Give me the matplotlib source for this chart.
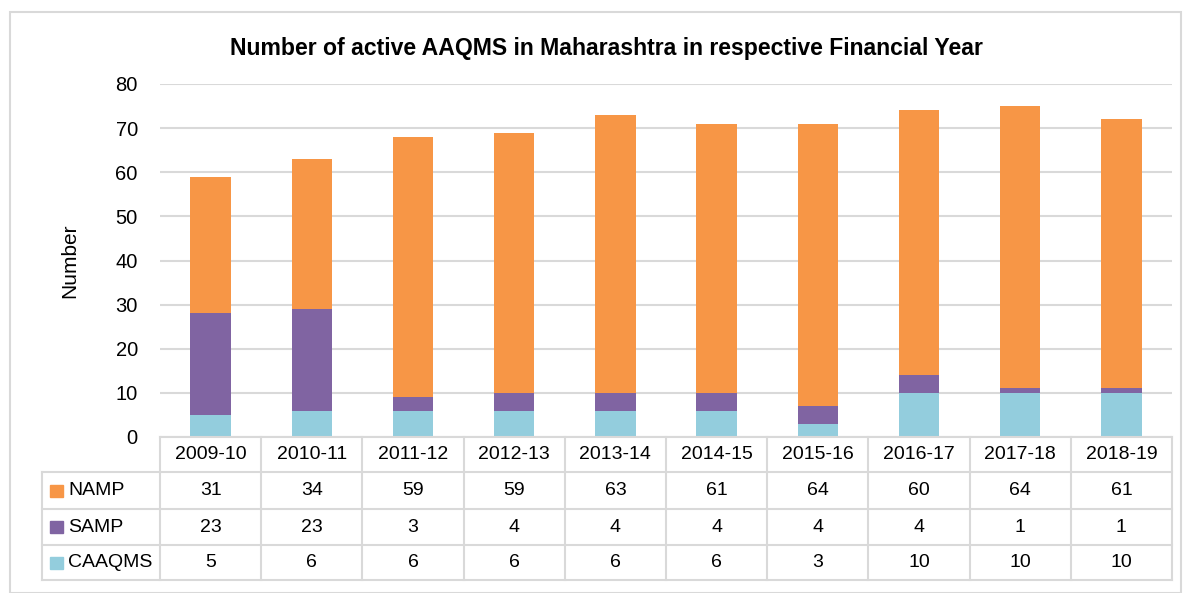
import matplotlib
matplotlib.use("Agg")
import matplotlib.pyplot as plt
import matplotlib.transforms as mtransforms
from matplotlib.patches import Rectangle
import numpy as np

years = ["2009-10", "2010-11", "2011-12", "2012-13", "2013-14",
         "2014-15", "2015-16", "2016-17", "2017-18", "2018-19"]
namp = [31, 34, 59, 59, 63, 61, 64, 60, 64, 61]
samp = [23, 23, 3, 4, 4, 4, 4, 4, 1, 1]
caaqms = [5, 6, 6, 6, 6, 6, 3, 10, 10, 10]
series_names = ["NAMP", "SAMP", "CAAQMS"]
colors = {"NAMP": "#F79646", "SAMP": "#8064A2", "CAAQMS": "#93CDDD"}

plt.rcParams["font.family"] = ["Liberation Sans", "DejaVu Sans"]
fs = 14
tfs = 16.6

W, H = 1187, 593
fig = plt.figure(figsize=(W / 100, H / 100), dpi=100)

def fx(px):
    return px / W

def fy(py):
    return 1 - py / H

# outer border
fig.patches.append(Rectangle((fx(10), fy(593)), fx(1181) - fx(10), fy(12) - fy(593),
                             transform=fig.transFigure, fill=False,
                             edgecolor="#d9d9d9", lw=1.5))

ax_left, ax_right = 160, 1172
ax_top, ax_bot = 84, 437
ax = fig.add_axes([fx(ax_left), fy(ax_bot), fx(ax_right) - fx(ax_left), fy(ax_top) - fy(ax_bot)])

x = np.arange(len(years))
bw = 0.4
c = np.array(caaqms)
s = np.array(samp)
n = np.array(namp)
ax.bar(x, c, bw, color=colors["CAAQMS"], zorder=3)
ax.bar(x, s, bw, bottom=c, color=colors["SAMP"], zorder=3)
ax.bar(x, n, bw, bottom=c + s, color=colors["NAMP"], zorder=3)

ax.set_xlim(-0.5, len(years) - 0.5)
ax.set_ylim(0, 80)
ax.set_yticks(range(0, 81, 10))
ax.set_xticks([])
ax.grid(axis="y", color="#d9d9d9", lw=1.5, zorder=0)
for sp in ax.spines.values():
    sp.set_visible(False)
ax.tick_params(axis="y", length=0, pad=16, labelsize=fs + 0.5)
ax.set_ylabel("Number", fontsize=fs + 1, labelpad=26)

fig.text(fx(606), fy(48), "Number of active AAQMS in Maharashtra in respective Financial Year",
         ha="center", va="center", fontsize=tfs, fontweight="bold")

# data table
bt = mtransforms.blended_transform_factory(ax.transData, fig.transFigure)
lc = "#d9d9d9"
rows_y = [437, 472, 509, 545, 580]
for i, ry in enumerate(rows_y):
    x0 = ax_left if i == 0 else 42
    fig.add_artist(plt.Line2D([fx(x0), fx(ax_right)], [fy(ry)] * 2,
                              transform=fig.transFigure, color=lc, lw=1.5))
for k in range(len(years) + 1):
    xv = k - 0.5
    fig.add_artist(plt.Line2D([xv, xv], [fy(437), fy(580)], transform=bt, color=lc, lw=1.5))
fig.add_artist(plt.Line2D([fx(42), fx(42)], [fy(472), fy(580)],
                          transform=fig.transFigure, color=lc, lw=1.5))

for i, yr in enumerate(years):
    fig.text(i, fy((437 + 472) / 2), yr, transform=bt, ha="center", va="center", fontsize=fs)

row_data = [namp, samp, caaqms]
for r, (name, vals) in enumerate(zip(series_names, row_data)):
    cy = (rows_y[r + 1] + rows_y[r + 2]) / 2
    fig.patches.append(Rectangle((fx(50), fy(cy + 6)), fx(13), fy(cy - 6) - fy(cy + 6),
                                 transform=fig.transFigure, color=colors[name]))
    fig.text(fx(68), fy(cy), name, ha="left", va="center", fontsize=fs)
    for i, v in enumerate(vals):
        fig.text(i, fy(cy), str(v), transform=bt, ha="center", va="center", fontsize=fs)

fig.savefig("out.png", dpi=100)
